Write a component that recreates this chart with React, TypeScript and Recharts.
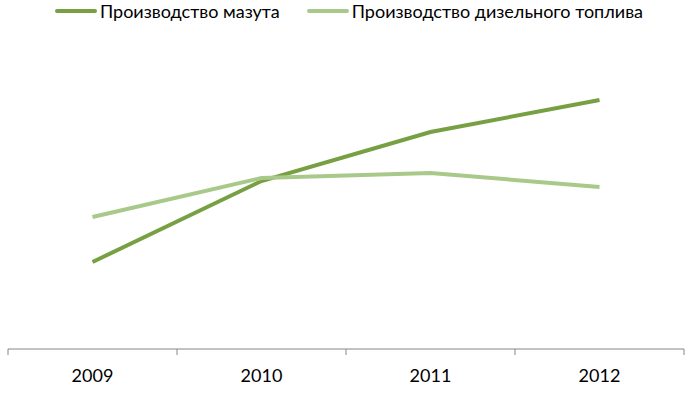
import { Legend, Line, LineChart, XAxis, YAxis } from "recharts";

const years = ["2009", "2010", "2011", "2012"];
const mazut = [87, 168, 217, 249];
const diesel = [132, 171, 176, 162];
const seriesNames = ["Производство мазута", "Производство дизельного топлива"];
const seriesColors = ["#77A043", "#A9C98A"];

const data = years.map((year, i) => ({
  year,
  x: i + 0.5,
  mazut: mazut[i],
  diesel: diesel[i],
}));

const boundaryTicks = years.map((_, i) => i).concat(years.length);
const centerTicks = years.map((_, i) => i + 0.5);

const font = "Lato, 'Open Sans', sans-serif";

function ChartLegend() {
  return (
    <div style={{ display: "flex", justifyContent: "center", gap: 27, fontFamily: font, fontSize: 18, lineHeight: "22px", color: "#000", paddingLeft: 6 }}>
      {seriesNames.map((name, i) => (
        <div key={name} style={{ display: "flex", alignItems: "center", gap: 3 }}>
          <span style={{ display: "inline-block", width: 42, height: 4, borderRadius: 2, background: seriesColors[i] }} />
          <span>{name}</span>
        </div>
      ))}
    </div>
  );
}

export default function App() {
  return (
    <div style={{ position: "absolute", left: 0, top: 0, background: "#fff" }}>
      <LineChart width={691} height={394} data={data} margin={{ top: 0, right: 7, bottom: 0, left: 8 }}>
        <Legend verticalAlign="top" height={29} content={<ChartLegend />} />
        <YAxis hide domain={[0, 320]} />
        <XAxis
          xAxisId="grid"
          dataKey="x"
          type="number"
          domain={[0, years.length]}
          ticks={boundaryTicks}
          tickFormatter={() => ""}
          height={5}
          tickSize={6}
          stroke="#868686"
          axisLine={{ stroke: "#868686", strokeWidth: 1 }}
          tickLine={{ stroke: "#868686" }}
        />
        <XAxis
          xAxisId="labels"
          dataKey="x"
          type="number"
          domain={[0, years.length]}
          ticks={centerTicks}
          tickFormatter={(v: number) => years[Math.floor(v)]}
          height={40}
          axisLine={false}
          tickLine={false}
          tickSize={0}
          tickMargin={15}
          tick={{ fill: "#000", fontSize: 18, fontFamily: font }}
        />
        <Line
          xAxisId="grid"
          dataKey="mazut"
          name={seriesNames[0]}
          stroke={seriesColors[0]}
          strokeWidth={4}
          dot={false}
          isAnimationActive={false}
        />
        <Line
          xAxisId="grid"
          dataKey="diesel"
          name={seriesNames[1]}
          stroke={seriesColors[1]}
          strokeWidth={4}
          dot={false}
          isAnimationActive={false}
        />
      </LineChart>
    </div>
  );
}
